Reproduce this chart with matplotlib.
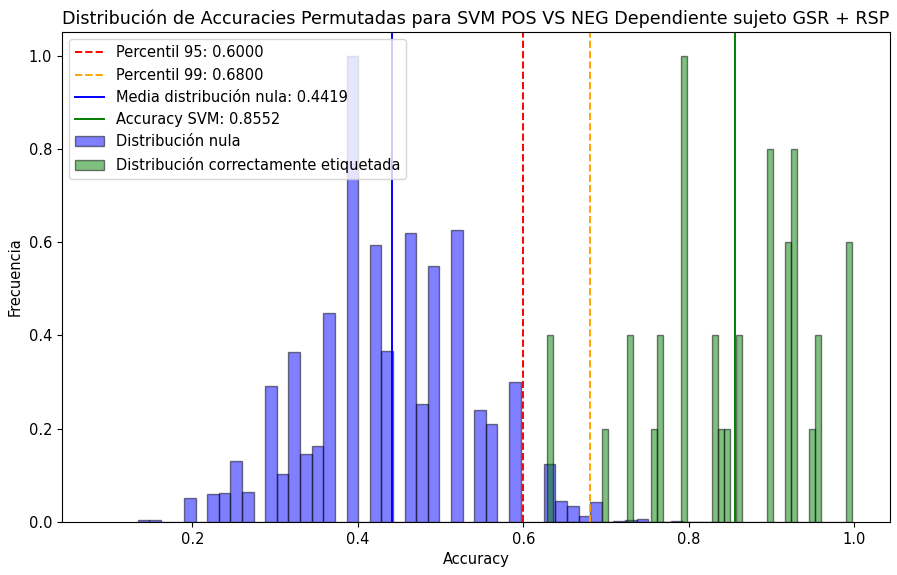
import numpy as np
import matplotlib.pyplot as plt

# normalised histogram heights (max = 1)
null_range = (0.134, 0.835)
null_heights = [0.005, 0.005, 0, 0, 0.052, 0, 0.060, 0.063, 0.131, 0.064,
                0, 0.291, 0.102, 0.364, 0.145, 0.162, 0.448, 0, 1.0, 0,
                0.594, 0.366, 0, 0.619, 0.254, 0.549, 0, 0.626, 0, 0.241,
                0.209, 0, 0.300, 0, 0, 0.124, 0.044, 0.035, 0.013, 0.042,
                0, 0.002, 0.004, 0.007, 0, 0, 0.003, 0, 0, 0]

real_range = (0.629, 0.997)
real_heights = [0.4, 0, 0, 0, 0, 0, 0, 0, 0, 0.2,
                0, 0, 0, 0.4, 0, 0, 0, 0.2, 0.4, 0,
                0, 0, 1.0, 0, 0, 0, 0, 0.4, 0.2, 0.2,
                0, 0.4, 0, 0, 0, 0, 0.8, 0, 0, 0.6,
                0.8, 0, 0, 0.2, 0.4, 0, 0, 0, 0, 0.6]

p95 = 0.6000
p99 = 0.6800
null_mean = 0.4419
svm_acc = 0.8552


def hist_from_heights(ax, rng, heights, **kwargs):
    edges = np.linspace(rng[0], rng[1], len(heights) + 1)
    centers = (edges[:-1] + edges[1:]) / 2
    return ax.hist(centers, bins=edges, weights=heights, **kwargs)


fig = plt.figure(figsize=(8.97, 5.75), dpi=100)
ax = fig.add_axes([0.069, 0.0922, 0.9232, 0.8518])

hist_from_heights(ax, null_range, null_heights, color="blue", alpha=0.5,
                  edgecolor="black", label="Distribución nula")
hist_from_heights(ax, real_range, real_heights, color="green", alpha=0.5,
                  edgecolor="black", label="Distribución correctamente etiquetada")

ax.axvline(p95, color="red", linestyle="--", linewidth=1.4,
           label=f"Percentil 95: {p95:.4f}")
ax.axvline(p99, color="orange", linestyle="--", linewidth=1.4,
           label=f"Percentil 99: {p99:.4f}")
ax.axvline(null_mean, color="blue", linestyle="-", linewidth=1.4,
           label=f"Media distribución nula: {null_mean:.4f}")
ax.axvline(svm_acc, color="green", linestyle="-", linewidth=1.4,
           label=f"Accuracy SVM: {svm_acc:.4f}")

ax.set_xlim(0.0425, 1.043)
ax.set_title("Distribución de Accuracies Permutadas para SVM POS VS NEG "
             "Dependiente sujeto GSR + RSP", fontsize=12.6)
ax.set_xlabel("Accuracy", fontsize=10.5)
ax.set_ylabel("Frecuencia", fontsize=10.5)
ax.tick_params(labelsize=10.5)

# lines first, then the two histograms
handles, labels = ax.get_legend_handles_labels()
order = [2, 3, 4, 5, 0, 1]
ax.legend([handles[i] for i in order], [labels[i] for i in order],
          loc="upper left", fontsize=10.5)

fig.savefig("out.png", dpi=100)
